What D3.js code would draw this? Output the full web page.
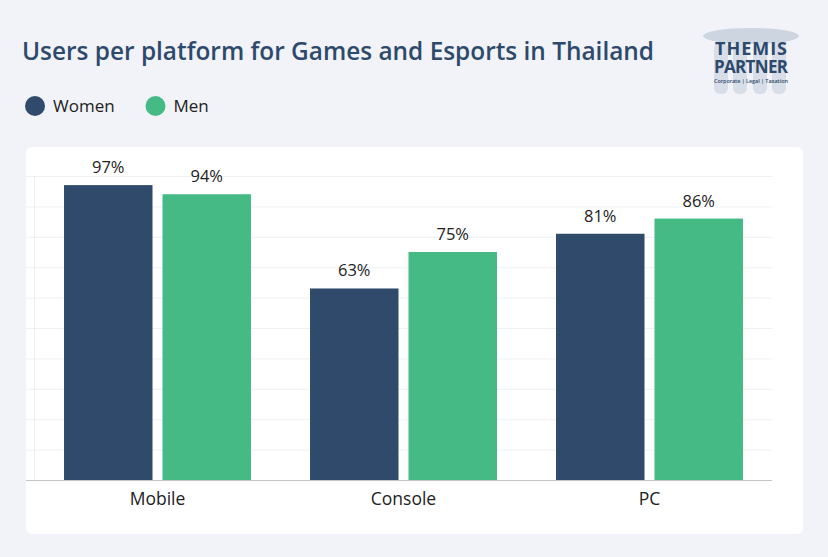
<html>
<head>
<style>
  body { margin: 0; background: #f1f3f8; }
  svg { display: block; font-family: "Open Sans", "Noto Sans", sans-serif; }
</style>
</head>
<body>
<svg id="chart"></svg>
<script src="https://cdn.jsdelivr.net/npm/d3@7"></script>
<script>
var platforms = ["Mobile", "Console", "PC"];
var groups = ["Women", "Men"];
var women = [97, 63, 81];
var men = [94, 75, 86];
var yTicks = [0, 10, 20, 30, 40, 50, 60, 70, 80, 90, 100];
var colors = {Women: "#2f4a6b", Men: "#45ba85"};

var W = 828, H = 557;
var svg = d3.select("#chart").attr("width", W).attr("height", H);

// background card
svg.append("rect")
    .attr("x", 26).attr("y", 147)
    .attr("width", 777).attr("height", 387)
    .attr("rx", 6)
    .attr("fill", "#ffffff");

// title
var title = svg.append("text")
    .attr("x", 22).attr("y", 60)
    .attr("fill", "#2d4a6c")
    .attr("font-size", 24.4)
    .attr("font-weight", 600)
    .text("Users per platform for Games and Esports in Thailand");
var tl = title.node().getComputedTextLength();
if (Math.abs(tl - 632) > 4) title.attr("textLength", 632).attr("lengthAdjust", "spacingAndGlyphs");

// legend
var legend = svg.append("g").selectAll("g")
    .data(groups)
    .enter().append("g")
    .attr("transform", function(d, i) { return "translate(" + (35 + i * 120.5) + ",106)"; });
legend.append("circle")
    .attr("r", 10)
    .attr("fill", function(d) { return colors[d]; });
legend.append("text")
    .attr("x", 18).attr("y", 6)
    .attr("font-size", 17)
    .attr("fill", "#222")
    .text(function(d) { return d; });

var x0 = d3.scaleBand()
    .domain(platforms)
    .range([34.5, 772.5])
    .paddingInner(0.24)
    .paddingOuter(0.12);

var x1 = d3.scaleBand()
    .domain(groups)
    .range([0, x0.bandwidth()])
    .paddingInner(0.1015);

var y = d3.scaleLinear()
    .domain([0, 100])
    .range([480, 176]);

// gridlines
svg.append("g")
    .attr("transform", "translate(26,0)")
    .call(d3.axisLeft(y).tickValues(yTicks).tickSize(-746).tickFormat(""))
    .call(function(g) { g.select(".domain").remove(); })
    .selectAll("line")
    .attr("stroke", "#eef0f4");

svg.append("line")
    .attr("x1", 34.5).attr("x2", 34.5)
    .attr("y1", y(100)).attr("y2", y(0))
    .attr("stroke", "#eef0f4");

var data = platforms.map(function(p, i) {
    return {platform: p, values: [{key: "Women", value: women[i]}, {key: "Men", value: men[i]}]};
});

var grp = svg.append("g").selectAll("g")
    .data(data)
    .enter().append("g")
    .attr("transform", function(d) { return "translate(" + x0(d.platform) + ",0)"; });

grp.selectAll("rect")
    .data(function(d) { return d.values; })
    .enter().append("rect")
    .attr("x", function(d) { return x1(d.key); })
    .attr("width", x1.bandwidth())
    .attr("y", function(d) { return y(d.value); })
    .attr("height", function(d) { return y(0) - y(d.value); })
    .attr("fill", function(d) { return colors[d.key]; });

grp.selectAll("text")
    .data(function(d) { return d.values; })
    .enter().append("text")
    .attr("x", function(d) { return x1(d.key) + x1.bandwidth() / 2; })
    .attr("y", function(d) { return y(d.value) - 12; })
    .attr("text-anchor", "middle")
    .attr("font-size", 16.5)
    .attr("font-weight", 500)
    .attr("fill", "#222")
    .text(function(d) { return d.value + "%"; });

// x axis
var xAxis = svg.append("g")
    .attr("transform", "translate(0,480)")
    .call(d3.axisBottom(x0).tickSize(0).tickPadding(13));
xAxis.select(".domain").remove();
xAxis.selectAll("text")
    .attr("font-size", 17.5)
    .attr("font-family", "'Open Sans', 'Noto Sans', sans-serif")
    .attr("fill", "#222");

svg.append("line")
    .attr("x1", 26).attr("x2", 772)
    .attr("y1", 480.5).attr("y2", 480.5)
    .attr("stroke", "#c4c4c4");

// logo
var logo = svg.append("g");
logo.append("ellipse")
    .attr("cx", 751).attr("cy", 36).attr("rx", 48).attr("ry", 8)
    .attr("fill", "#cdd5e0");
[721, 740, 760, 779].forEach(function(cx) {
    logo.append("rect")
        .attr("x", cx - 7).attr("y", 42).attr("width", 14).attr("height", 52)
        .attr("rx", 6)
        .attr("fill", "#d8dee7");
});
var logoText = logo.append("text")
    .attr("text-anchor", "middle")
    .attr("font-weight", 700)
    .attr("fill", "#2d4a6c");
logoText.append("tspan")
    .attr("x", 751).attr("y", 55)
    .attr("font-size", 18)
    .attr("textLength", 72)
    .text("THEMIS");
logoText.append("tspan")
    .attr("x", 751).attr("y", 72.5)
    .attr("font-size", 17)
    .attr("textLength", 74)
    .text("PARTNER");
logoText.append("tspan")
    .attr("x", 751).attr("y", 83)
    .attr("font-size", 5.5).attr("font-weight", 600)
    .attr("textLength", 74)
    .text("Corporate | Legal | Taxation");
</script>
</body>
</html>
